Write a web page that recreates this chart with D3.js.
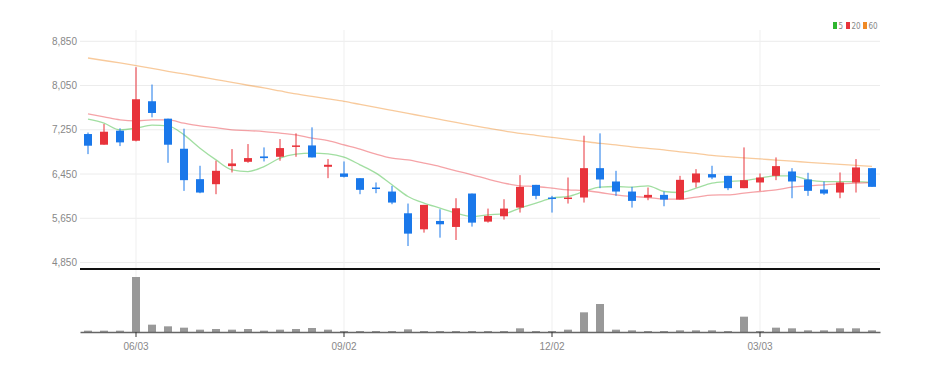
<!DOCTYPE html>
<html>
<head>
<meta charset="utf-8">
<script src="https://cdn.jsdelivr.net/npm/d3@7"></script>
<style>
  body { margin: 0; background: #fff; }
  svg { display: block; font-family: "DejaVu Sans Condensed", "DejaVu Sans", sans-serif; font-stretch: condensed; }
</style>
</head>
<body>
<svg width="938" height="374"></svg>
<script>
// weekly candles
let dates = ["2024-05-13","2024-05-20","2024-05-27","2024-06-03","2024-06-10","2024-06-17","2024-06-24","2024-07-01","2024-07-08","2024-07-15",
    "2024-07-22","2024-07-29","2024-08-05","2024-08-12","2024-08-19","2024-08-26","2024-09-02","2024-09-09","2024-09-16","2024-09-23",
    "2024-09-30","2024-10-07","2024-10-14","2024-10-21","2024-10-28","2024-11-04","2024-11-11","2024-11-18","2024-11-25","2024-12-02",
    "2024-12-09","2024-12-16","2024-12-23","2024-12-30","2025-01-06","2025-01-13","2025-01-20","2025-01-27","2025-02-03","2025-02-10",
    "2025-02-17","2025-02-24","2025-03-03","2025-03-10","2025-03-17","2025-03-24","2025-03-31","2025-04-07","2025-04-14","2025-04-21"];

let open  = [7173,6980,7234,7052,7766,7451,6907,6357,6266,6593, 6671,6768,6762,6943,6967,6581,6460,6375,6206,6133,
             5740,5450,5601,5493,6097,5589,5686,5843,6254,6025, 6000,6025,6556,6315,6133,6025,6073,5988,6297,6448,
             6417,6194,6297,6417,6496,6351,6170,6115,6297,6556];
let high  = [7200,7355,7276,8382,8068,7451,7270,6599,6690,6901, 6992,6931,7082,7185,7294,6720,6677,6375,6297,6236,
             5916,5892,5813,6012,6097,5825,5994,6430,6254,6055, 6387,7143,7185,6508,6218,6206,6133,6417,6538,6599,
             6417,6931,6460,6750,6556,6472,6315,6478,6720,6556];
let low   = [6810,6980,6955,7040,7475,6653,6145,6103,6085,6478, 6653,6677,6690,6762,6750,6375,6387,6085,6103,5904,
             5148,5390,5299,5257,5499,5571,5626,5753,5994,5753, 5916,5934,6194,6055,5843,5976,5867,5988,6206,6357,
             6158,6194,6146,6339,6012,6055,6073,6012,6115,6218];
let close = [6962,7215,7022,7802,7554,6980,6339,6115,6508,6641, 6738,6738,6919,6967,6750,6617,6399,6164,6182,5934,
             5372,5892,5541,5831,5571,5692,5825,6218,6055,6006, 6025,6556,6351,6133,5964,6073,5988,6345,6460,6387,
             6194,6339,6387,6593,6315,6146,6097,6297,6569,6218];
let volume = [40,40,40,1650,220,170,130,70,90,70, 90,40,70,90,120,70,30,30,30,30,
              80,30,30,30,30,30,30,110,30,30, 70,590,840,70,50,30,30,50,50,50,
              30,460,30,130,110,50,50,110,110,50];

let ma5  = [7441,7369,7248,7279,7333,7320,7158,6918,6706,6526, 6495,6585,6737,6809,6827,6815,6755,6616,6466,6255,
            6044,5924,5834,5744,5683,5713,5731,5834,5924,6015, 6044,6134,6213,6224,6213,6237,6134,6116,6195,6286,
            6314,6332,6376,6417,6417,6345,6314,6314,6314,6296];
let ma20 = [7537,7483,7429,7411,7429,7429,7369,7320,7290,7248, 7236,7218,7189,7158,7098,7055,6977,6900,6809,6737,
            6706,6647,6585,6508,6436,6358,6286,6237,6224,6195, 6164,6152,6116,6074,6044,6025,5997,5997,6033,6069,
            6074,6105,6134,6164,6213,6237,6255,6273,6286,6296];
let ma60 = [8548,8503,8458,8409,8359,8308,8259,8209,8158,8108, 8055,8007,7952,7898,7853,7808,7763,7709,7654,7600,
            7546,7492,7438,7384,7329,7279,7230,7185,7149,7113, 7077,7040,7004,6977,6941,6914,6887,6851,6824,6788,
            6764,6742,6724,6701,6683,6661,6643,6625,6607,6589];

let priceTicks = [4850,5650,6450,7250,8050,8850];
let tickDates = ["2024-06-03","2024-09-02","2024-12-02","2025-03-03"];
let maNames = ["5","20","60"];

let svg = d3.select("svg");

let upColor = "#e8333b", downColor = "#1a78ea";
let maColors = ["#2fb52f", "#e8333b", "#f08a24"];

let x = d3.scaleBand()
    .domain(dates)
    .range([80, 880])
    .paddingInner(0.5)
    .paddingOuter(0.25);

let y = d3.scaleLinear()
    .domain([4850, 8850])
    .range([262.5, 41.3]);

let yVol = d3.scaleLinear()
    .domain([0, d3.max(volume)])
    .range([332, 277]);

let cx = d => x(d) + x.bandwidth() / 2;

// grid
svg.append("g")
    .selectAll("line")
    .data(priceTicks)
    .enter().append("line")
    .attr("x1", 80).attr("x2", 880)
    .attr("y1", d => y(d)).attr("y2", d => y(d))
    .attr("stroke", "#ececec");

svg.append("g")
    .selectAll("line")
    .data(tickDates)
    .enter().append("line")
    .attr("x1", cx).attr("x2", cx)
    .attr("y1", 30).attr("y2", 332)
    .attr("stroke", "#efefef");

// price axis labels
let yAxis = d3.axisLeft(y)
    .tickValues(priceTicks)
    .tickFormat(d3.format(","))
    .tickSize(0)
    .tickPadding(3);

svg.append("g")
    .attr("transform", "translate(80,0)")
    .call(yAxis)
    .call(g => g.select(".domain").remove())
    .selectAll("text")
    .attr("fill", "#888")
    .style("font-size", "10px");

// moving averages
let maSeries = [ma5, ma20, ma60];
let line = d3.line()
    .x((d, i) => cx(dates[i]))
    .y(d => y(d))
    .curve(d3.curveMonotoneX);

svg.append("g")
    .selectAll("path")
    .data(maSeries)
    .enter().append("path")
    .attr("d", line)
    .attr("fill", "none")
    .attr("stroke", (d, i) => maColors[i])
    .attr("stroke-opacity", 0.45)
    .attr("stroke-width", 1.3);

// candles
let candles = dates.map((d, i) => ({date: d, o: open[i], h: high[i], l: low[i], c: close[i], v: volume[i]}));
let candleColor = d => d.c >= d.o ? upColor : downColor;

let candle = svg.append("g")
    .selectAll("g")
    .data(candles)
    .enter().append("g");

candle.append("line")
    .attr("x1", d => cx(d.date)).attr("x2", d => cx(d.date))
    .attr("y1", d => y(d.h)).attr("y2", d => y(d.l))
    .attr("stroke", candleColor)
    .attr("stroke-width", 1);

candle.append("rect")
    .attr("x", d => x(d.date))
    .attr("width", x.bandwidth())
    .attr("y", d => y(Math.max(d.o, d.c)))
    .attr("height", d => Math.max(1.5, Math.abs(y(d.o) - y(d.c))))
    .attr("fill", candleColor);

// divider between panels
svg.append("line")
    .attr("x1", 80).attr("x2", 880)
    .attr("y1", 269).attr("y2", 269)
    .attr("stroke", "#111")
    .attr("stroke-width", 2);

// volume
svg.append("g")
    .selectAll("rect")
    .data(candles)
    .enter().append("rect")
    .attr("x", d => x(d.date))
    .attr("width", x.bandwidth())
    .attr("y", d => yVol(d.v))
    .attr("height", d => 332 - yVol(d.v))
    .attr("fill", "#999");

let xAxis = d3.axisBottom(x)
    .tickValues(tickDates)
    .tickFormat(d => d.slice(5).replace("-", "/"))
    .tickSize(5)
    .tickSizeOuter(0)
    .tickPadding(6);

let xg = svg.append("g")
    .attr("transform", "translate(0,332)")
    .call(xAxis);
xg.select(".domain").attr("stroke", "#666").attr("stroke-width", 1.5);
xg.selectAll(".tick line").attr("stroke", "#333");
xg.selectAll("text").attr("fill", "#888").style("font-size", "10px");

// legend
let legend = svg.append("g")
    .attr("transform", "translate(833,22)");

let item = legend.selectAll("g")
    .data(maNames)
    .enter().append("g")
    .attr("transform", (d, i) => "translate(" + [0, 13, 30][i] + ",0)");

item.append("rect")
    .attr("width", 4).attr("height", 7)
    .attr("fill", (d, i) => maColors[i]);

item.append("text")
    .attr("x", 5.5).attr("y", 7)
    .attr("fill", "#888")
    .style("font-size", "8px")
    .text(d => d);
</script>
</body>
</html>
